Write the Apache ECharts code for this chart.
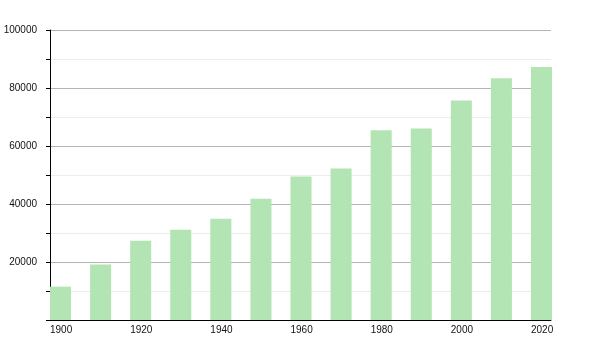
<!DOCTYPE html>
<html>
<head>
<meta charset="utf-8">
<script src="https://cdn.jsdelivr.net/npm/echarts@6/dist/echarts.min.js"></script>
<style>html,body{margin:0;padding:0;background:#fff}#c{width:600px;height:350px}</style>
</head>
<body>
<div id="c"></div>
<script>
var years = [1900, 1910, 1920, 1930, 1940, 1950, 1960, 1970, 1980, 1990, 2000, 2010, 2020];
var population = [11500, 19100, 27300, 31100, 34900, 41800, 49500, 52200, 65400, 66000, 75700, 83400, 87200];
var yTickLabels = [20000, 40000, 60000, 80000, 100000];
var xTickLabels = [1900, 1920, 1940, 1960, 1980, 2000, 2020];

var chart = echarts.init(document.getElementById('c'), null, {renderer: 'canvas'});
var font = 'Liberation Sans, Arial, sans-serif';
chart.setOption({
  animation: false,
  grid: {left: 50, right: 49, top: 30, bottom: 30, containLabel: false},
  xAxis: {
    type: 'value', min: 1900, max: 2025, interval: 20,
    axisLine: {show: true, onZero: false, lineStyle: {color: '#000', width: 1}},
    axisTick: {show: false},
    splitLine: {show: false},
    axisLabel: {
      show: true, margin: 5, color: '#111', fontSize: 10, fontFamily: font, align: 'left',
      showMaxLabel: false,
      formatter: function (v) { return xTickLabels.indexOf(v) >= 0 ? String(v) : ''; }
    }
  },
  yAxis: {
    type: 'value', min: 0, max: 100000, interval: 10000,
    axisLine: {show: true, lineStyle: {color: '#000', width: 1}},
    axisTick: {show: true, length: 4, lineStyle: {color: '#000'}},
    splitLine: {show: true, lineStyle: {color: ['#b4b4b4', '#ececec'], width: 1}},
    axisLabel: {
      margin: 13, color: '#111', fontSize: 10, fontFamily: font,
      formatter: function (v) { return yTickLabels.indexOf(v) >= 0 ? String(v) : ''; }
    }
  },
  series: [{
    type: 'custom',
    data: years.map(function (y, i) { return [y, population[i]]; }),
    renderItem: function (params, api) {
      var x = api.value(0), v = api.value(1);
      var base = api.coord([x, 0]);
      var top = api.coord([x, v]);
      var w = api.size([5.25, 0])[0];
      return {
        type: 'rect',
        shape: {x: base[0], y: top[1], width: w, height: base[1] - top[1]},
        style: {fill: '#b3e4b3'}
      };
    },
    z: 3
  }]
});
</script>
</body>
</html>
